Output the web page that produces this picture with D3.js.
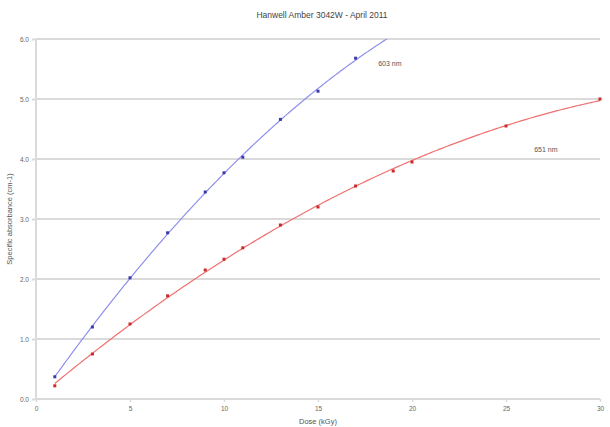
<!DOCTYPE html>
<html><head><meta charset="utf-8">
<script src="https://cdn.jsdelivr.net/npm/d3@7"></script>
<style>body{margin:0;background:#fff}svg{display:block}</style>
</head><body>
<svg id="c" width="610" height="427"></svg>
<script>
const title = "Hanwell Amber 3042W - April 2011";
const xLabel = "Dose (kGy)";
const yLabel = "Specific absorbance (cm-1)";
const xTicks = [0, 5, 10, 15, 20, 25, 30];
const yTicks = [0, 1, 2, 3, 4, 5, 6];
const doses603 = [1, 3, 5, 7, 9, 10, 11, 13, 15, 17];
const abs603 = [0.37, 1.2, 2.02, 2.77, 3.45, 3.77, 4.03, 4.66, 5.13, 5.68];
const doses651 = [1, 3, 5, 7, 9, 10, 11, 13, 15, 17, 19, 20, 25, 30];
const abs651 = [0.22, 0.75, 1.25, 1.72, 2.15, 2.33, 2.52, 2.9, 3.2, 3.55, 3.8, 3.95, 4.55, 5.0];
const seriesNames = ["603 nm", "651 nm"];

const svg = d3.select("#c");
const m = {l: 36, r: 10, t: 39, b: 28};
const W = 610, H = 427;
const x = d3.scaleLinear().domain([0, 30]).range([m.l, W - m.r]);
const y = d3.scaleLinear().domain([0, 6]).range([H - m.b, m.t]);

svg.append("defs").append("clipPath").attr("id", "clip")
  .append("rect").attr("x", m.l).attr("y", m.t).attr("width", W - m.r - m.l).attr("height", H - m.b - m.t);

// gridlines
svg.append("g").selectAll("line").data(yTicks).join("line")
  .attr("x1", m.l).attr("x2", W - m.r)
  .attr("y1", d => y(d)).attr("y2", d => y(d))
  .attr("stroke", "#dadada").attr("stroke-width", 2);
// left axis line
svg.append("line").attr("x1", m.l).attr("x2", m.l).attr("y1", y(6)).attr("y2", y(0))
  .attr("stroke", "#dadada").attr("stroke-width", 2);

// y tick labels
const yAxis = d3.axisLeft(y).tickValues(yTicks).tickFormat(d3.format(".1f")).tickSize(4).tickPadding(3);
const gy = svg.append("g").attr("transform", `translate(${m.l},0)`).call(yAxis);
gy.select(".domain").remove();
gy.selectAll("line").attr("stroke", "#dadada").attr("stroke-width", 2);
gy.selectAll("text").attr("font-family", "Arial, Liberation Sans, sans-serif").attr("font-size", 6.5).attr("fill", "#666");

// x tick labels
const xAxis = d3.axisBottom(x).tickValues(xTicks).tickSize(3).tickPadding(4);
const gx = svg.append("g").attr("transform", `translate(0,${y(0)})`).call(xAxis);
gx.select(".domain").remove();
gx.selectAll("line").attr("stroke", "#dadada").attr("stroke-width", 1.5);
gx.selectAll("text").attr("font-family", "Arial, Liberation Sans, sans-serif").attr("font-size", 6.5).attr("fill", "#666");

// quadratic least-squares trendline
function quadFit(xs, ys) {
  let S = [0,0,0,0,0], T = [0,0,0];
  xs.forEach((xi, i) => {
    for (let k = 0; k < 5; k++) S[k] += Math.pow(xi, k);
    for (let k = 0; k < 3; k++) T[k] += ys[i] * Math.pow(xi, k);
  });
  const A = [[S[0],S[1],S[2],T[0]],[S[1],S[2],S[3],T[1]],[S[2],S[3],S[4],T[2]]];
  for (let i = 0; i < 3; i++) {
    for (let j = i + 1; j < 3; j++) {
      const f = A[j][i] / A[i][i];
      for (let k = i; k < 4; k++) A[j][k] -= f * A[i][k];
    }
  }
  const c = [0,0,0];
  for (let i = 2; i >= 0; i--) {
    let s = A[i][3];
    for (let k = i + 1; k < 3; k++) s -= A[i][k] * c[k];
    c[i] = s / A[i][i];
  }
  return t => c[0] + c[1] * t + c[2] * t * t;
}

const line = d3.line().x(d => x(d[0])).y(d => y(d[1]));
function drawSeries(xs, ys, lineColor, markColor, xEnd) {
  const f = quadFit(xs, ys);
  const pts = d3.range(0, 201).map(i => {
    const t = xs[0] + (xEnd - xs[0]) * i / 200;
    return [t, f(t)];
  });
  svg.append("path").datum(pts).attr("d", line).attr("fill", "none")
    .attr("stroke", lineColor).attr("stroke-width", 1.2).attr("clip-path", "url(#clip)");
  svg.append("g").selectAll("rect").data(xs).join("rect")
    .attr("x", (d) => x(d) - 1.5).attr("y", (d, i) => y(ys[i]) - 1.5)
    .attr("width", 3).attr("height", 3).attr("fill", markColor);
}
drawSeries(doses603, abs603, "#8f8fee", "#3a3aa8", 20);
drawSeries(doses651, abs651, "#f07070", "#cc2a2a", 30);

// series labels
svg.append("text").attr("x", x(18.2)).attr("y", y(5.55)).text(seriesNames[0])
  .attr("font-family", "Arial, Liberation Sans, sans-serif").attr("font-size", 7).attr("fill", "#555");
svg.append("text").attr("x", x(26.5)).attr("y", y(4.12)).text(seriesNames[1])
  .attr("font-family", "Arial, Liberation Sans, sans-serif").attr("font-size", 7).attr("fill", "#555");

// title and axis labels
svg.append("text").attr("x", 322).attr("y", 18).attr("text-anchor", "middle").text(title)
  .attr("font-family", "Arial, Liberation Sans, sans-serif").attr("font-size", 8.5).attr("fill", "#444");
svg.append("text").attr("x", 318).attr("y", 424).attr("text-anchor", "middle").text(xLabel)
  .attr("font-family", "Arial, Liberation Sans, sans-serif").attr("font-size", 7.5).attr("fill", "#555");
svg.append("text").attr("transform", `translate(12,${(y(0) + y(6)) / 2}) rotate(-90)`)
  .attr("text-anchor", "middle").text(yLabel)
  .attr("font-family", "Arial, Liberation Sans, sans-serif").attr("font-size", 7.5).attr("fill", "#555");
</script>
</body></html>
